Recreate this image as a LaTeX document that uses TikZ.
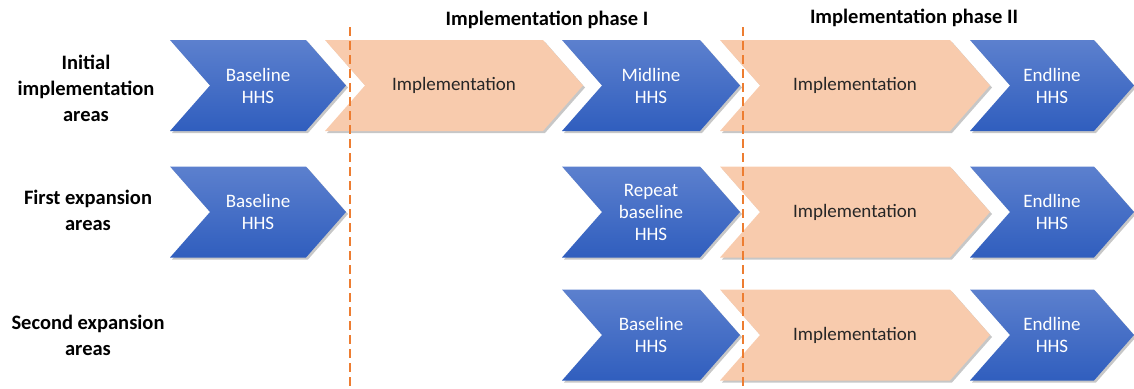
\documentclass[tikz,border=0pt]{standalone}
\usepackage{fontspec}
\setmainfont{Carlito}
\definecolor{bluetop}{RGB}{92,128,206}
\definecolor{bluebot}{RGB}{48,94,190}
\definecolor{peach}{RGB}{248,203,173}
\definecolor{dashor}{RGB}{237,125,49}
\tikzset{
  blueshape/.style={top color=bluetop,bottom color=bluebot},
  peachshape/.style={fill=peach},
  shadowshape/.style={fill=black,opacity=0.22},
  bluetext/.style={text=white,align=center,font=\fontsize{19}{22}\selectfont},
  peachtext/.style={text=black!85,align=center,font=\fontsize{19}{22}\selectfont},
  rowlabel/.style={align=center,font=\fontsize{20.5}{26}\selectfont\bfseries},
  phaselabel/.style={font=\fontsize{20.5}{24}\selectfont\bfseries},
  phaseline/.style={draw=dashor,line width=2pt,dash pattern=on 9pt off 5pt},
}
% #1 left x, #2 top-right x, #3 center y, #4 shape style, #5 text style, #6 name, #7 text
\newcommand{\chevshape}[7]{%
  \fill[shadowshape] (#1+2,#3-43.5) -- (#2+2,#3-43.5) -- (#2+42,#3+2) -- (#2+2,#3+47.5) -- (#1+2,#3+47.5) -- (#1+42,#3+2) -- cycle;
  \path[#4] (#1,#3-45.5) -- (#2,#3-45.5) -- (#2+40,#3) -- (#2,#3+45.5) -- (#1,#3+45.5) -- (#1+40,#3) -- cycle;
  \node[#5] (#6) at ({(#1+#2+40)/2},#3) {#7};
}
\begin{document}
\begin{tikzpicture}[x=1pt,y=-1pt]
\useasboundingbox (0,0) rectangle (1134,388);
% row 1
\chevshape{170}{306}{85.5}{blueshape}{bluetext}{rAbase}{Baseline\\HHS}
\chevshape{325}{543}{85.5}{peachshape}{peachtext}{rAimpl}{Implementation}
\chevshape{562}{700}{85.5}{blueshape}{bluetext}{rAmid}{Midline\\HHS}
\chevshape{720}{950}{85.5}{peachshape}{peachtext}{rAimplB}{Implementation}
\chevshape{970}{1094}{85.5}{blueshape}{bluetext}{rAend}{Endline\\HHS}
% row 2
\chevshape{170}{306}{212}{blueshape}{bluetext}{rBbase}{Baseline\\HHS}
\chevshape{562}{700}{212}{blueshape}{bluetext}{rBrep}{Repeat\\baseline\\HHS}
\chevshape{720}{950}{212}{peachshape}{peachtext}{rBimpl}{Implementation}
\chevshape{970}{1094}{212}{blueshape}{bluetext}{rBend}{Endline\\HHS}
% row 3
\chevshape{562}{700}{335}{blueshape}{bluetext}{rCbase}{Baseline\\HHS}
\chevshape{720}{950}{335}{peachshape}{peachtext}{rCimpl}{Implementation}
\chevshape{970}{1094}{335}{blueshape}{bluetext}{rCend}{Endline\\HHS}
% row labels
\node[rowlabel] (labA) at (86,88) {Initial\\implementation\\areas};
\node[rowlabel] (labB) at (88,210) {First expansion\\areas};
\node[rowlabel] (labC) at (88,335) {Second expansion\\areas};
% phase labels
\node[phaselabel] (phA) at (547,20) {Implementation phase I};
\node[phaselabel] (phB) at (914,18) {Implementation phase II};
% dashed phase boundaries
\coordinate (dAt) at (350,27);
\coordinate (dAb) at (350,388);
\coordinate (dBt) at (743,27);
\coordinate (dBb) at (743,388);
\draw[phaseline] (dAt) -- (dAb);
\draw[phaseline] (dBt) -- (dBb);
\end{tikzpicture}
\end{document}
